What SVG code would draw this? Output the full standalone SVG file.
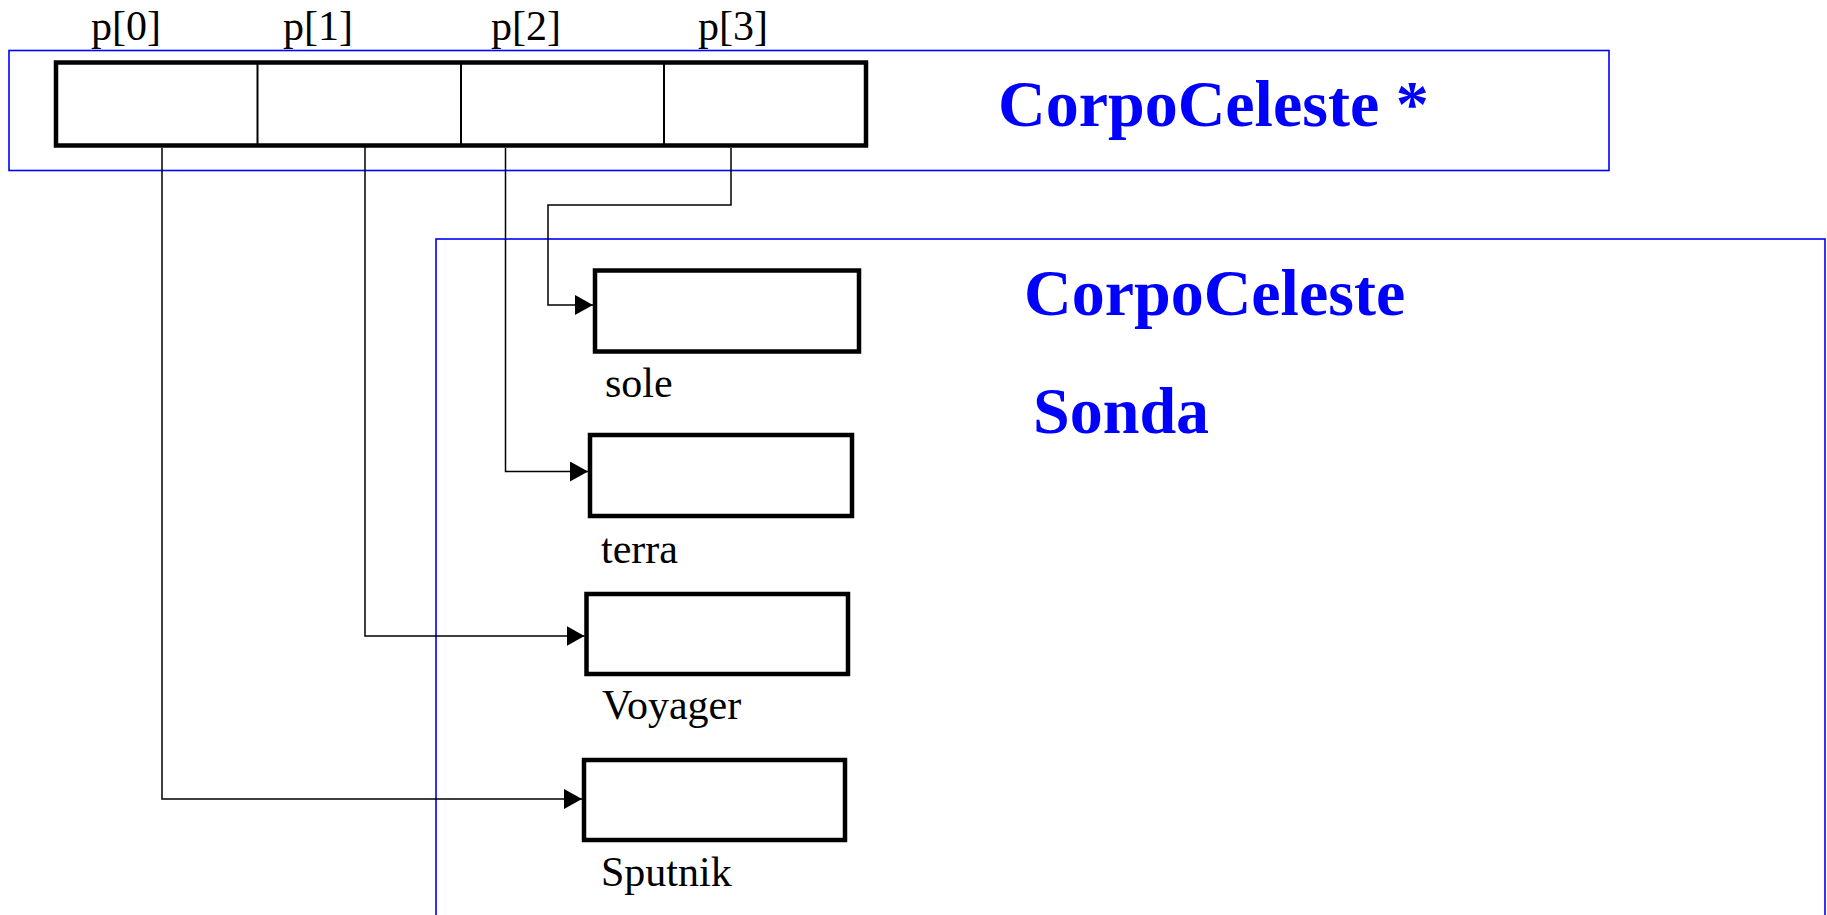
<svg xmlns="http://www.w3.org/2000/svg" width="1827" height="915" viewBox="0 0 1827 915">
<style>
.frame{fill:none;stroke:#0000ff;stroke-width:1.6}
.box{fill:#fff;stroke:#000;stroke-width:4.5}
.div{stroke:#000;stroke-width:2}
.conn{fill:none;stroke:#000;stroke-width:1.5}
.lbl{font-family:"Liberation Serif","Times New Roman",serif;font-size:42px;fill:#000}
.title{font-family:"Liberation Serif","Times New Roman",serif;font-size:66px;font-weight:bold;fill:#0000ff}
</style>
<defs>
<marker id="arr" viewBox="0 0 18 20" refX="18" refY="10" markerWidth="18" markerHeight="20" markerUnits="userSpaceOnUse" orient="auto">
<path d="M0,0 L18,10 L0,20 z" fill="#000"/>
</marker>
</defs>
<rect width="1827" height="915" fill="#fff"/>
<g id="frame-pointers">
<rect class="frame" x="9" y="50.5" width="1600" height="120"/>
<text class="title" x="998" y="126">CorpoCeleste *</text>
</g>
<g id="frame-objects">
<rect class="frame" x="436" y="239" width="1389" height="720"/>
<text class="title" x="1024" y="315">CorpoCeleste</text>
<text class="title" x="1033" y="433">Sonda</text>
</g>
<g id="array-p">
<rect class="box" x="56" y="62.5" width="810" height="83"/>
<line class="div" x1="257.5" y1="64" x2="257.5" y2="144"/>
<line class="div" x1="461" y1="64" x2="461" y2="144"/>
<line class="div" x1="664" y1="64" x2="664" y2="144"/>
<text class="lbl" x="126" y="40" text-anchor="middle">p[0]</text>
<text class="lbl" x="318" y="40" text-anchor="middle">p[1]</text>
<text class="lbl" x="526" y="40" text-anchor="middle">p[2]</text>
<text class="lbl" x="733" y="40" text-anchor="middle">p[3]</text>
</g>
<g id="node-sole">
<rect class="box" x="595" y="270.5" width="264" height="81"/>
<text class="lbl" x="605" y="397">sole</text>
</g>
<g id="node-terra">
<rect class="box" x="590" y="435" width="262" height="81"/>
<text class="lbl" x="601" y="563">terra</text>
</g>
<g id="node-voyager">
<rect class="box" x="586.5" y="594" width="261.5" height="80"/>
<text class="lbl" x="602" y="719">Voyager</text>
</g>
<g id="node-sputnik">
<rect class="box" x="584" y="760" width="261" height="80"/>
<text class="lbl" x="601" y="886">Sputnik</text>
</g>
<g id="connectors">
<path class="conn" d="M731,148 V205 H548 V305 H593" marker-end="url(#arr)"/>
<path class="conn" d="M505.5,148 V471.5 H588" marker-end="url(#arr)"/>
<path class="conn" d="M365,145 V636 H584.5" marker-end="url(#arr)"/>
<path class="conn" d="M162,148 V799 H582" marker-end="url(#arr)"/>
</g>
</svg>
